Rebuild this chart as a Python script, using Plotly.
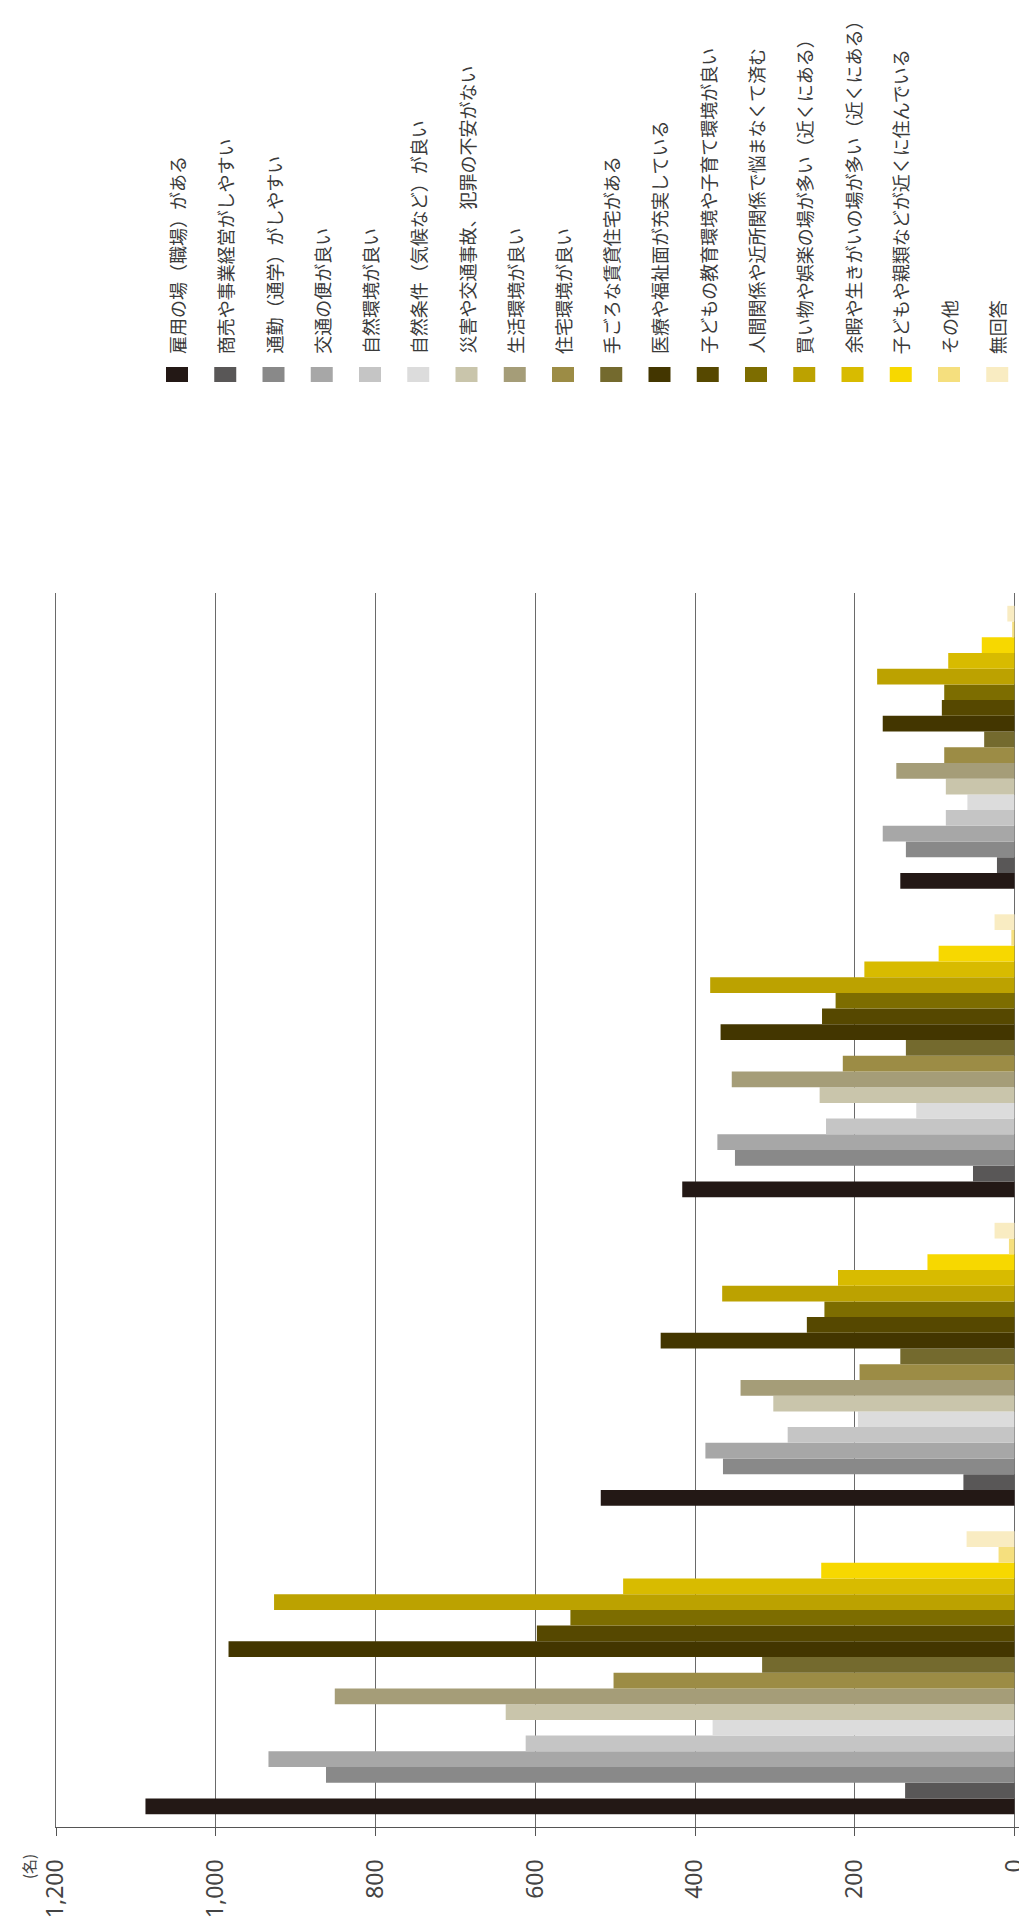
import plotly.graph_objects as go

# Response categories (series), drawn bottom-to-top inside each group
series_names = [
    "雇用の場（職場）がある",
    "商売や事業経営がしやすい",
    "通勤（通学）がしやすい",
    "交通の便が良い",
    "自然環境が良い",
    "自然条件（気候など）が良い",
    "災害や交通事故、犯罪の不安がない",
    "生活環境が良い",
    "住宅環境が良い",
    "手ごろな賃貸住宅がある",
    "医療や福祉面が充実している",
    "子どもの教育環境や子育て環境が良い",
    "人間関係や近所関係で悩まなくて済む",
    "買い物や娯楽の場が多い（近くにある）",
    "余暇や生きがいの場が多い（近くにある）",
    "子どもや親類などが近くに住んでいる",
    "その他",
    "無回答",
]

series_colors = [
    "#231815", "#595757", "#898989", "#a7a7a7", "#c5c5c5", "#dcdcdc",
    "#c9c5ab", "#a59d78", "#9c8c45", "#746a2e", "#433600", "#564800",
    "#7d6d00", "#bca200", "#d8bb00", "#f7d800", "#f5df7e", "#f9ecc2",
]

# Four respondent groups along the category axis
groups = ["区分1", "区分2", "区分3", "区分4"]

# Number of respondents (名) per series, one list per group
group1_values = [1088, 137, 862, 934, 612, 378, 637, 851, 502, 316, 984, 598, 556, 927, 490, 242, 20, 60]
group2_values = [518, 64, 365, 387, 284, 196, 302, 343, 194, 143, 443, 260, 238, 366, 221, 109, 7, 25]
group3_values = [416, 52, 350, 372, 236, 123, 244, 354, 215, 136, 368, 241, 224, 381, 188, 95, 4, 25]
group4_values = [143, 22, 136, 165, 86, 59, 86, 148, 88, 38, 165, 91, 88, 172, 83, 41, 3, 9]

value_ticks = [0, 200, 400, 600, 800, 1000, 1200]
value_tick_labels = ["0", "200", "400", "600", "800", "1,000", "1,200"]

all_groups = [group1_values, group2_values, group3_values, group4_values]

W, H = 1019, 1919
M_L, M_R, M_T, M_B = 56, 0, 593, 92
plot_w = W - M_L - M_R
plot_h = H - M_T - M_B

JP_FONT = "Noto Sans CJK JP"

fig = go.Figure()
for i, (name, color) in enumerate(zip(series_names, series_colors)):
    fig.add_trace(go.Bar(
        y=groups,
        x=[g[i] for g in all_groups],
        name=name,
        orientation="h",
        marker=dict(color=color, line=dict(width=0)),
        showlegend=False,
    ))


def px_to_paper_x(px):
    return (px - M_L) / plot_w


def px_to_paper_y(py):
    return (H - M_B - py) / plot_h


# Rotated legend: colour swatch with label reading upward above it
annotations = []
shapes = []
first_cx, step = 177.0, 48.25
sw_half_w, sw_top, sw_bot = 11, 367, 382
label_base = 356
for i, (name, color) in enumerate(zip(series_names, series_colors)):
    cx = first_cx + i * step
    shapes.append(dict(
        type="rect", xref="paper", yref="paper",
        x0=px_to_paper_x(cx - sw_half_w), x1=px_to_paper_x(cx + sw_half_w),
        y0=px_to_paper_y(sw_bot), y1=px_to_paper_y(sw_top),
        fillcolor=color, line=dict(width=0), layer="above",
    ))
    annotations.append(dict(
        text=name, xref="paper", yref="paper",
        x=px_to_paper_x(cx), y=px_to_paper_y(label_base),
        xanchor="center", yanchor="bottom", textangle=-90,
        showarrow=False, font=dict(family=JP_FONT, size=18, color="#3a3a3a"),
    ))

# Unit label next to the value axis
annotations.append(dict(
    text="(名)", xref="paper", yref="paper",
    x=px_to_paper_x(28), y=px_to_paper_y(1867),
    xanchor="center", yanchor="middle", textangle=-90,
    showarrow=False, font=dict(family=JP_FONT, size=15, color="#444444"),
))

fig.update_layout(
    width=W, height=H, autosize=False,
    margin=dict(l=M_L, r=M_R, t=M_T, b=M_B, pad=0, autoexpand=False),
    paper_bgcolor="white", plot_bgcolor="white",
    barmode="group", bargap=0.083, bargroupgap=0,
    annotations=annotations, shapes=shapes,
    showlegend=False,
)

fig.update_xaxes(
    range=[1200, -5.6],
    tickvals=value_ticks, ticktext=value_tick_labels,
    tickangle=-90,
    tickfont=dict(family="Noto Sans", size=23, color="#444444"),
    ticks="outside", ticklen=8, tickcolor="#555555", tickwidth=1,
    ticklabelstandoff=14, ticklabeloverflow="allow",
    showgrid=True, gridcolor="#6a6a6a", gridwidth=1.2,
    showline=True, linecolor="#555555", linewidth=1.3,
    zeroline=False, automargin=False,
)
fig.update_yaxes(
    categoryorder="array", categoryarray=groups,
    showticklabels=False, showgrid=False, zeroline=False,
    showline=True, linecolor="#6a6a6a", linewidth=1.2,
    ticks="", automargin=False,
)

fig.write_html("out.html")
